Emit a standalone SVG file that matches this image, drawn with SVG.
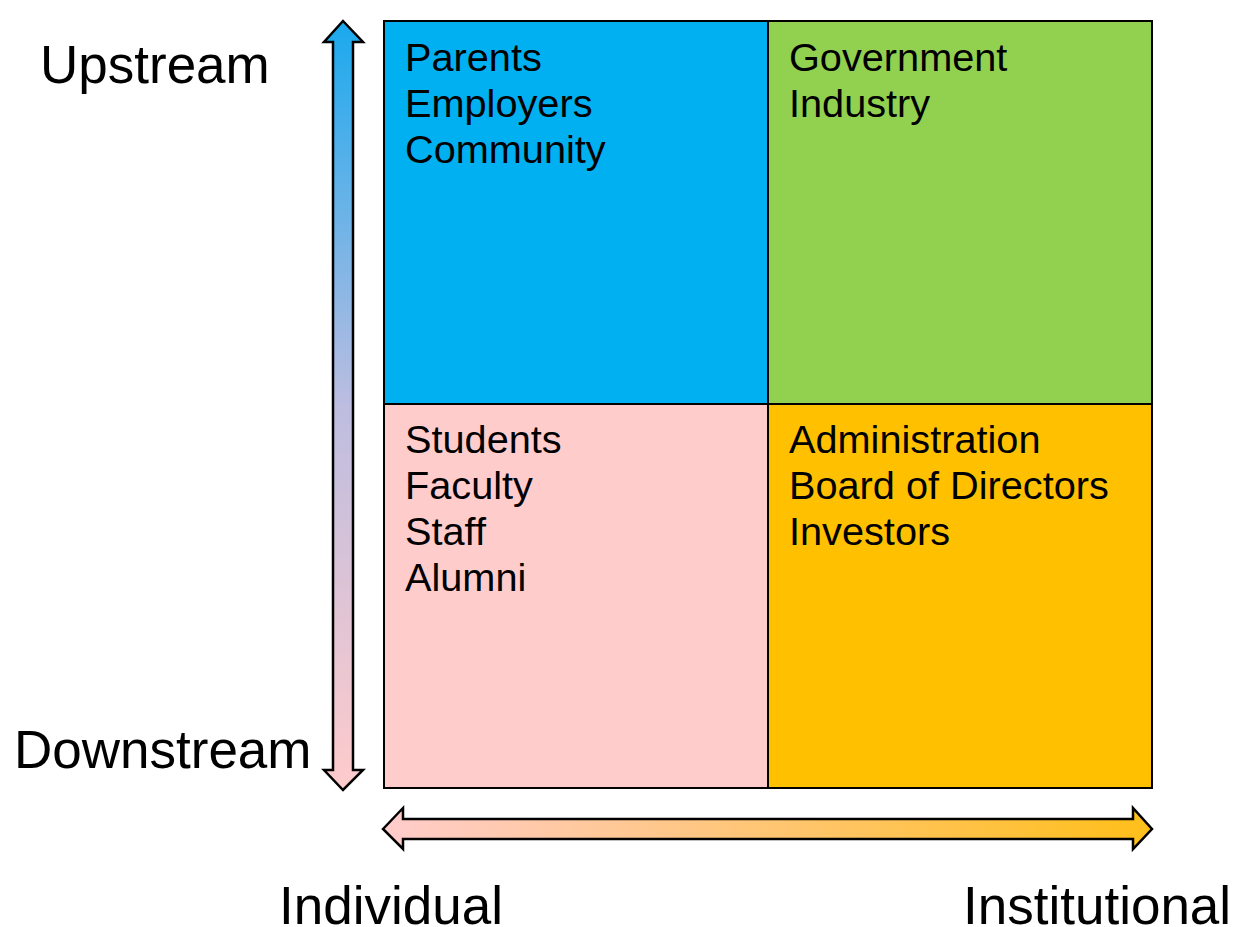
<svg xmlns="http://www.w3.org/2000/svg" width="1234" height="927" viewBox="0 0 1234 927">
  <defs>
    <linearGradient id="gradV" x1="0" y1="0" x2="0" y2="1">
      <stop offset="0" stop-color="#1AA9EE"/>
      <stop offset="0.5" stop-color="#BDBDE0"/>
      <stop offset="1" stop-color="#FFCBCB"/>
    </linearGradient>
    <linearGradient id="gradH" x1="0" y1="0" x2="1" y2="0">
      <stop offset="0" stop-color="#FFCCCC"/>
      <stop offset="1" stop-color="#FFBF1A"/>
    </linearGradient>
    <style>
      .quad { stroke: #000; stroke-width: 2; }
      .item { font-family: "Liberation Sans", Arial, sans-serif; font-size: 39.7px; fill: #000; }
      .axis { font-family: "Liberation Sans", Arial, sans-serif; font-size: 53px; fill: #000; }
      .arrow { stroke: #000; stroke-width: 2.5; stroke-linejoin: miter; }
    </style>
  </defs>

  <!-- quadrants -->
  <g id="q-upstream-individual">
    <rect class="quad" x="384" y="21" width="384" height="383" fill="#00B0F0"/>
    <text class="item" x="405" y="71">Parents</text>
    <text class="item" x="405" y="117">Employers</text>
    <text class="item" x="405" y="163">Community</text>
  </g>
  <g id="q-upstream-institutional">
    <rect class="quad" x="768" y="21" width="384" height="383" fill="#92D050"/>
    <text class="item" x="789" y="71">Government</text>
    <text class="item" x="789" y="117">Industry</text>
  </g>
  <g id="q-downstream-individual">
    <rect class="quad" x="384" y="404" width="384" height="384" fill="#FFCCCC"/>
    <text class="item" x="405" y="453">Students</text>
    <text class="item" x="405" y="499">Faculty</text>
    <text class="item" x="405" y="545">Staff</text>
    <text class="item" x="405" y="591">Alumni</text>
  </g>
  <g id="q-downstream-institutional">
    <rect class="quad" x="768" y="404" width="384" height="384" fill="#FFC000"/>
    <text class="item" x="789" y="453">Administration</text>
    <text class="item" x="789" y="499">Board of Directors</text>
    <text class="item" x="789" y="545">Investors</text>
  </g>

  <!-- axis arrows -->
  <g id="connectors">
    <path class="arrow" fill="url(#gradV)" d="M343,21 L363,42 L353,42 L353,770 L363,770 L343,790 L324,770 L333,770 L333,42 L324,42 Z"/>
    <path class="arrow" fill="url(#gradH)" d="M383,829 L403,808 L403,819 L1133,819 L1133,808 L1152,829 L1133,849 L1133,839 L403,839 L403,849 Z"/>
  </g>

  <!-- axis labels -->
  <g id="labels">
    <text class="axis" x="40" y="83">Upstream</text>
    <text class="axis" x="14" y="768">Downstream</text>
    <text class="axis" x="279" y="924">Individual</text>
    <text class="axis" x="963" y="924">Institutional</text>
  </g>
</svg>
